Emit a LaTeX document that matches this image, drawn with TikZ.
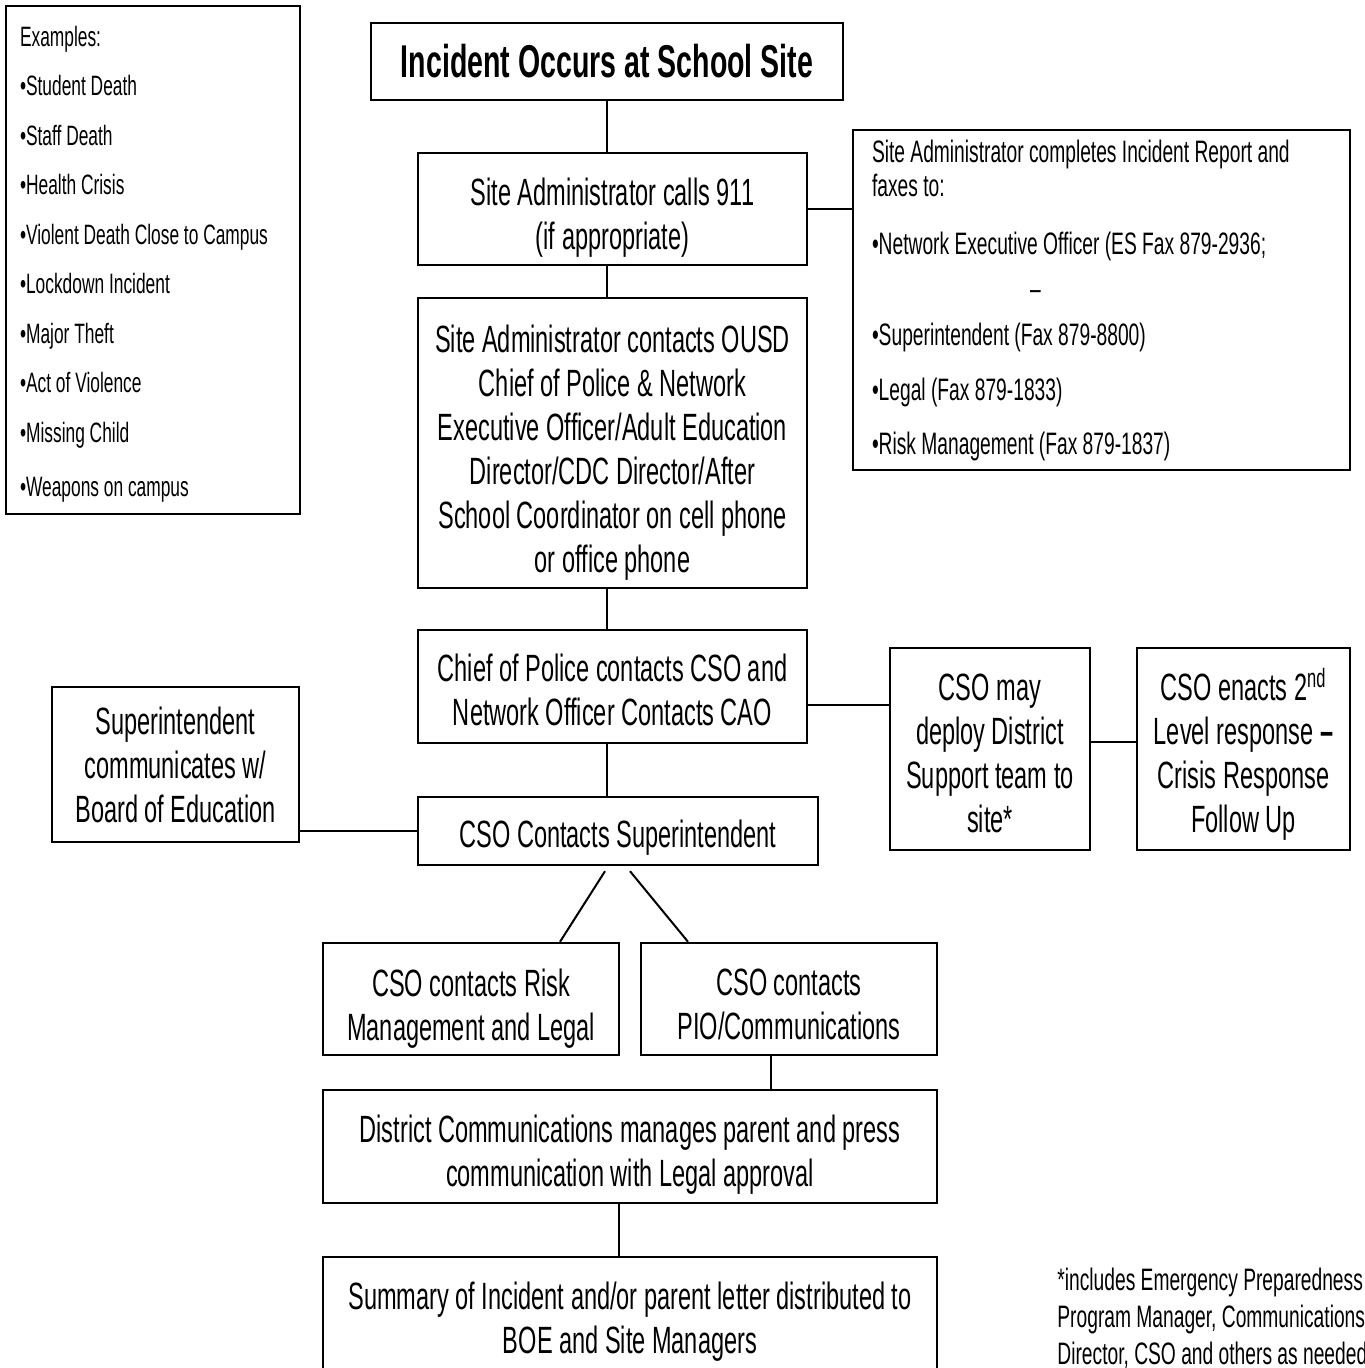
\documentclass[tikz,border=0pt]{standalone}
\usepackage{fontspec}
\setmainfont[FakeStretch=0.62]{Liberation Sans}
\newcommand\boxstrut[1]{\rule{0pt}{#1pt}}

\begin{document}
\begin{tikzpicture}[x=0.5pt, y=-0.5pt,
	box/.style={draw, line width=1.2pt, inner sep=0pt, align=center,
		font=\fontsize{19}{22}\selectfont},
	listbox/.style={draw, line width=1.2pt, inner ysep=0pt, align=flush left,
		font=\fontsize{14}{24.75}\selectfont},
	link/.style={line width=1pt}]
	\useasboundingbox (0,0) rectangle (1364,1368);
	\clip (0,0) rectangle (1364,1368);

	% examples on the left
	\node[listbox, inner xsep=7pt, text width=133pt, minimum height=254pt] (examples) at (153,260)
		{\boxstrut{14.5}Examples:\\ •Student Death\\ •Staff Death\\ •Health Crisis\\ •Violent Death Close to Campus\\
		 •Lockdown Incident\\ •Major Theft\\ •Act of Violence\\ •Missing Child\\[2.5pt] •Weapons on campus};

	% main column
	\node[box, minimum width=236pt, minimum height=38.5pt,
		font=\fontsize{23}{26}\selectfont\bfseries] (incident) at (607,61.5)
		{Incident Occurs at School Site};
	\node[box, minimum width=194.5pt, minimum height=56pt] (calls) at (612.5,209)
		{\boxstrut{22}Site Administrator calls 911\\(if appropriate)};
	\node[box, minimum width=194.5pt, minimum height=145pt] (contacts) at (612.5,443)
		{\boxstrut{23}Site Administrator contacts OUSD\\Chief of Police \& Network\\Executive Officer/Adult Education\\
		 Director/CDC Director/After\\School Coordinator on cell phone\\or office phone};
	\node[box, minimum width=194.5pt, minimum height=56.5pt] (chief) at (612.5,686.5)
		{\boxstrut{17}Chief of Police contacts CSO and\\Network Officer Contacts CAO};
	\node[box, minimum width=200pt, minimum height=34pt] (csosup) at (618,831)
		{\boxstrut{20}CSO Contacts Superintendent};
	\node[box, minimum width=148pt, minimum height=56pt] (risk) at (471,999)
		{\boxstrut{23}CSO contacts Risk\\Management and Legal};
	\node[box, minimum width=148pt, minimum height=56pt] (pio) at (789,999)
		{\boxstrut{19}CSO contacts\\PIO/Communications};
	\node[box, minimum width=307pt, minimum height=56.5pt] (comms) at (630,1146.5)
		{\boxstrut{22}District Communications manages parent and press\\communication with Legal approval};
	\node[box, minimum width=307pt, minimum height=56.5pt] (summary) at (630,1313.5)
		{\boxstrut{22}Summary of Incident and/or parent letter distributed to\\BOE and Site Managers};

	% side boxes
	\node[listbox, inner xsep=9.5pt, text width=229.5pt, minimum height=170pt,
		font=\fontsize{15.5}{17}\selectfont] (fax) at (1101.5,300)
		{Site Administrator completes Incident Report and\\faxes to:\\[12pt]
		 •Network Executive Officer (ES Fax 879-2936;\\[5.5pt]
		 \hspace*{79pt}–\\[6pt]
		 •Superintendent (Fax 879-8800)\\[10.5pt]
		 •Legal (Fax 879-1833)\\[10pt]
		 •Risk Management (Fax 879-1837)};
	\node[box, minimum width=100pt, minimum height=101pt] (deploy) at (990,749)
		{\boxstrut{18}CSO may\\deploy District\\Support team to\\site*};
	\node[box, minimum width=106.5pt, minimum height=101pt] (enacts) at (1243.5,749)
		{\boxstrut{21}CSO enacts 2\textsuperscript{nd}\\Level response \textbf{–}\\Crisis Response\\Follow Up};
	\node[box, minimum width=123.5pt, minimum height=77.5pt] (board) at (175.5,764.5)
		{Superintendent\\communicates w/\\Board of Education};

	% footnote
	\node[anchor=north west, inner sep=0pt, align=left, font=\fontsize{15.5}{18.5}\selectfont] (note) at (1057,1268)
		{*includes Emergency Preparedness\\Program Manager, Communications\\Director, CSO and others as needed};

	% connectors
	\draw[link] (incident.south) -- (incident.south |- calls.north);
	\draw[link] (calls.east) -- (calls.east -| fax.west);
	\draw[link] (incident.south |- calls.south) -- (incident.south |- contacts.north);
	\draw[link] (incident.south |- contacts.south) -- (incident.south |- chief.north);
	\draw[link] ([yshift=-9.25pt]chief.east) -- ([yshift=-9.25pt]chief.east -| deploy.west);
	\draw[link] ([yshift=3.5pt]deploy.east) -- ([yshift=3.5pt]deploy.east -| enacts.west);
	\draw[link] (incident.south |- chief.south) -- (incident.south |- csosup.north);
	\draw[link] (csosup.west) -- (csosup.west -| board.east);
	\draw[link] ([shift={(-6.5pt,-2.5pt)}]csosup.south) -- ([xshift=44.5pt]risk.north);
	\draw[link] ([shift={(6pt,-2.5pt)}]csosup.south) -- ([xshift=-50.5pt]pio.north);
	\draw[link] ([xshift=-9pt]pio.south) -- ([xshift=-9pt]pio.south |- comms.north);
	\draw[link] ([xshift=-5.5pt]comms.south) -- ([xshift=-5.5pt]comms.south |- summary.north);
\end{tikzpicture}
\end{document}
